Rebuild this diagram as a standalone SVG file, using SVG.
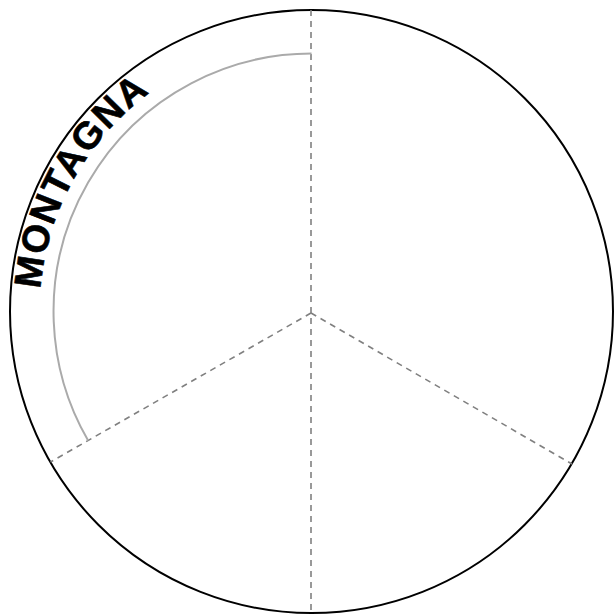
<svg xmlns="http://www.w3.org/2000/svg" xmlns:xlink="http://www.w3.org/1999/xlink" width="615" height="616" viewBox="0 0 615 616">
  <style>
    .rim { fill: #ffffff; stroke: #000000; stroke-width: 2; }
    .div { fill: none; stroke: #808080; stroke-width: 1.6; stroke-dasharray: 6 5; }
    .band { fill: none; stroke: #aaaaaa; stroke-width: 2; }
    .lbl { font-family: "Liberation Sans", Arial, sans-serif; font-weight: bold; font-size: 38px; letter-spacing: 1.5px; fill: #000000; stroke: #000000; stroke-width: 0.6; }
  </style>
  <defs>
    <path id="lblPath" d="M 40.4 289.2 A 272 272 0 0 1 311.5 39.5"/>
  </defs>
  <g id="wheel">
    <circle class="rim" cx="311.5" cy="311.5" r="301.5"/>
  </g>
  <g id="connectors">
    <line class="div" x1="311" y1="10" x2="311" y2="612"/>
    <line class="div" x1="311" y1="313" x2="50.5" y2="462"/>
    <line class="div" x1="311" y1="313" x2="572" y2="464"/>
  </g>
  <g id="montagna">
    <path class="band" d="M 311.5 53.5 A 258 258 0 0 0 88.1 440.5"/>
    <text class="lbl"><textPath xlink:href="#lblPath">MONTAGNA</textPath></text>
  </g>
</svg>
